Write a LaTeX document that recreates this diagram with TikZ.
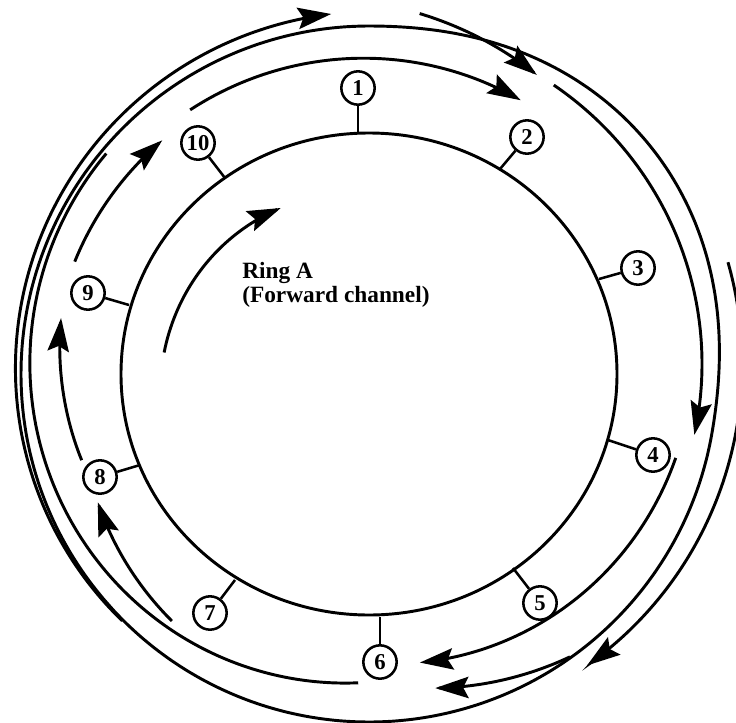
\documentclass[tikz,border=0pt]{standalone}
\usepackage{fontspec}
\setmainfont{Liberation Serif}
\usetikzlibrary{arrows.meta}

\tikzset{
  ringline/.style={line width=2.2pt},
  flow/.style={line width=2.2pt, ->},
  stem/.style={line width=1.9pt},
  station/.style={circle, draw, line width=1.9pt, fill=white, minimum size=25pt,
    inner sep=0pt, font=\fontsize{17pt}{17pt}\selectfont\bfseries},
  declare function={bump(\a)=max(0,1-((\a-40)/50)*((\a-40)/50));
                    rb(\a)=348+14*bump(\a)*bump(\a);},
}

\begin{document}
\begin{tikzpicture}[>={Stealth[length=25pt,width=16pt,inset=4pt]}, x=0.75pt, y=-0.75pt]
  \fill[white] (0,0) rectangle (736,722);
  \useasboundingbox (0,0) rectangle (736,722);
  % ring A and the outer full loop
  \draw[ringline] (369,374) ellipse [x radius=248, y radius=241];
  \draw[ringline,domain=-140:220,smooth,samples=121] plot ({369+rb(\x)*cos(\x)}, {374-rb(\x)*sin(\x)}) -- cycle;
  % stations hanging on the ring
  \foreach \n/\nx/\ny/\sx/\sy in {1/358/88/358/133, 2/527/137/500/169, 3/638/268/599/279,
      4/653/455/608/440, 5/540/603/513/568, 6/380/662/380/617, 7/210/613/235/580,
      8/100/477/140/465, 9/88/293/129/305, 10/198/143/225/178}
  {
    \coordinate (a\n) at (\sx,\sy);
    \node[station] (n\n) at (\nx,\ny) {\n};
    \draw[stem] (n\n) -- (a\n);
  }
  % label inside the ring
  \node[anchor=north west, inner sep=0pt, align=left,
    font=\fontsize{17.5pt}{18pt}\selectfont\bfseries] (lbl) at (242,262) {Ring A\\(Forward channel)};
  \draw[flow,domain=174:118,smooth,samples=40] plot ({369+(206+0.3214*(\x-174))*cos(\x)}, {374-(206+0.3214*(\x-174))*sin(\x)});
  % inner arcs station to station
  \draw[flow,domain=124.1:61,smooth,samples=50] plot ({369+(319+0.0951*(\x-124.1))*cos(\x)}, {374-(319+0.0951*(\x-124.1))*sin(\x)});
  \draw[flow,domain=57.4:-10.6,smooth,samples=50] plot ({369+(343+0.1765*(\x-57.4))*cos(\x)}, {374-(343+0.1765*(\x-57.4))*sin(\x)});
  \draw[flow,domain=-15.3:-80,smooth,samples=50] plot ({369+(318+0.3864*(\x+15.3))*cos(\x)}, {374-(318+0.3864*(\x+15.3))*sin(\x)});
  \draw[flow,domain=231.4:205.3,smooth,samples=30] plot ({369+(316+0.6130*(\x-231.4))*cos(\x)}, {374-(316+0.6130*(\x-231.4))*sin(\x)});
  \draw[flow,domain=196.7:169.7,smooth,samples=30] plot ({369+(300-0.4815*(\x-196.7))*cos(\x)}, {374-(300-0.4815*(\x-196.7))*sin(\x)});
  \draw[flow,domain=159.1:131.5,smooth,samples=30] plot ({369+(315+0.1087*(\x-159.1))*cos(\x)}, {374-(315+0.1087*(\x-159.1))*sin(\x)});
  % outer winding pieces
  \draw[flow,domain=-135:-264,smooth,samples=80] plot ({369+(349-0.1008*(\x+135))*cos(\x)}, {374-(349-0.1008*(\x+135))*sin(\x)});
  \draw[flow,domain=82:60.7,smooth,samples=30] plot ({369+(364+0.986*(\x-82))*cos(\x)}, {374-(364+0.986*(\x-82))*sin(\x)});
  \draw[flow,domain=17.3:-53.2,smooth,samples=50] plot ({369+(376+0.1702*(\x-17.3))*cos(\x)}, {374-(376+0.1702*(\x-17.3))*sin(\x)});
  \draw[flow,domain=-54.6:-78.1,smooth,samples=30] plot ({369+(347+1.1064*(\x+54.6))*cos(\x)}, {374-(347+1.1064*(\x+54.6))*sin(\x)});
  \draw[ringline,domain=-92:-220,smooth,samples=80] plot ({369+(309+34*sin(0.7031*(-92-\x)))*cos(\x)}, {374-(309+34*sin(0.7031*(-92-\x)))*sin(\x)});
\end{tikzpicture}
\end{document}
